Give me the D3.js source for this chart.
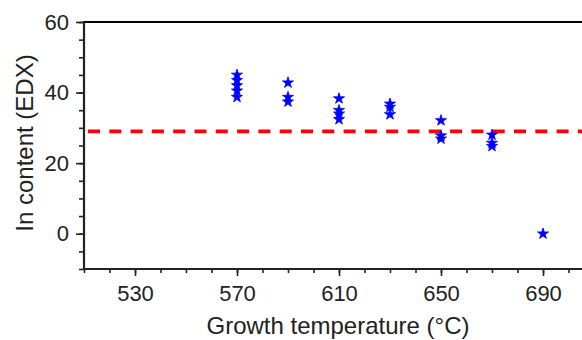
<!DOCTYPE html>
<html>
<head>
<meta charset="utf-8">
<script src="https://cdn.jsdelivr.net/npm/d3@7"></script>
<style>
  html, body { margin: 0; padding: 0; background: #fff; }
  svg { display: block; font-family: "Liberation Sans", Arial, sans-serif; }
</style>
</head>
<body>
<svg id="chart" width="582" height="340"></svg>
<script>
// ---- data ----
const temperatures = [570, 570, 570, 570, 570,
                      590, 590, 590,
                      610, 610, 610, 610,
                      630, 630, 630,
                      650, 650, 650,
                      670, 670, 670,
                      690];
const inContent = [45, 43.5, 42, 40.5, 38.7,
                   42.8, 38.7, 37.4,
                   38.3, 35, 34, 32.4,
                   36.8, 35.9, 33.8,
                   32.1, 27.8, 26.9,
                   28, 25.7, 24.8,
                   0];
const referenceLevel = [29];
const xMajorTicks = [530, 570, 610, 650, 690];
const xMinorTicks = d3.range(510, 711, 10);
const yMajorTicks = [0, 20, 40, 60];
const yMinorTicks = d3.range(-10, 61, 5);

// ---- layout ----
const svg = d3.select("#chart");
const x = d3.scaleLinear().domain([510, 710]).range([84, 594]);
const y = d3.scaleLinear().domain([-10, 60]).range([269, 22]);
const ink = "#222";

// top frame line
svg.append("line")
  .attr("x1", 84).attr("x2", 582)
  .attr("y1", y(60)).attr("y2", y(60))
  .attr("stroke", "#000").attr("stroke-width", 2);

// x axis minor
const gxMinor = svg.append("g").attr("transform", `translate(0,${y(-10)})`)
  .call(d3.axisBottom(x).tickValues(xMinorTicks).tickSize(4).tickFormat(""));
// x axis major
const gx = svg.append("g").attr("transform", `translate(0,${y(-10)})`)
  .call(d3.axisBottom(x).tickValues(xMajorTicks).tickSize(7).tickPadding(9).tickFormat(d3.format("d")));

// y axis minor
const gyMinor = svg.append("g").attr("transform", `translate(${x(510)},0)`)
  .call(d3.axisLeft(y).tickValues(yMinorTicks).tickSize(5).tickFormat(""));
// y axis major
const gy = svg.append("g").attr("transform", `translate(${x(510)},0)`)
  .call(d3.axisLeft(y).tickValues(yMajorTicks).tickSize(8).tickPadding(7).tickFormat(d3.format("d")));

[gxMinor, gx, gyMinor, gy].forEach(g => {
  g.selectAll(".domain").remove();
  g.selectAll(".tick line").attr("stroke", ink).attr("stroke-width", 1.6);
  g.selectAll(".tick text").attr("fill", ink).style("font-size", "22px")
    .style("font-family", '"Liberation Sans", Arial, sans-serif');
});

// axis lines
svg.append("line")
  .attr("x1", x(510)).attr("x2", 582)
  .attr("y1", y(-10)).attr("y2", y(-10))
  .attr("stroke", ink).attr("stroke-width", 2.2);
svg.append("line")
  .attr("x1", x(510)).attr("x2", x(510))
  .attr("y1", y(60) - 1).attr("y2", y(-10) + 1)
  .attr("stroke", ink).attr("stroke-width", 2.2);

// reference dashed line
svg.selectAll(".ref").data(referenceLevel).enter().append("line")
  .attr("class", "ref")
  .attr("x1", x(510) + 4).attr("x2", 582)
  .attr("y1", d => y(d)).attr("y2", d => y(d))
  .attr("stroke", "#ff0000").attr("stroke-width", 3.6)
  .attr("stroke-dasharray", "12,9.3");

// data points (stars)
const star = d3.symbol().type(d3.symbolStar).size(38);
svg.selectAll(".pt").data(temperatures.map((t, i) => ({t, v: inContent[i]})))
  .enter().append("path")
  .attr("class", "pt")
  .attr("d", star)
  .attr("transform", d => `translate(${x(d.t)},${y(d.v)})`)
  .attr("fill", "#0000ff")
  .attr("stroke", "#0000ff").attr("stroke-width", 0.8);

// axis titles
svg.append("text")
  .attr("x", 338).attr("y", 334)
  .attr("text-anchor", "middle")
  .attr("fill", ink)
  .style("font-size", "24px")
  .text("Growth temperature (°C)");

svg.append("text")
  .attr("transform", "translate(33,143) rotate(-90)")
  .attr("text-anchor", "middle")
  .attr("fill", ink)
  .style("font-size", "24px")
  .text("In content (EDX)");
</script>
</body>
</html>
